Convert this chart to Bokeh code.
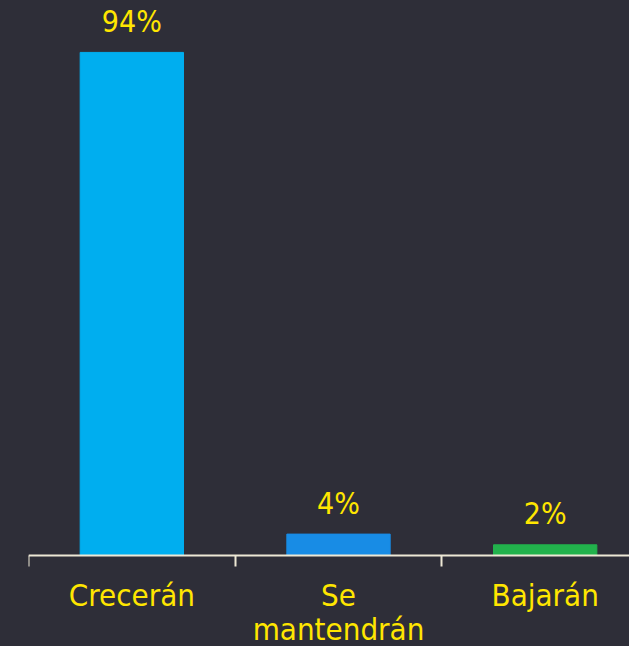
from bokeh.plotting import figure
from bokeh.models import ColumnDataSource, Range1d, FixedTicker
from bokeh.core.properties import value
from bokeh.embed import file_html
from bokeh.resources import INLINE

categories = ["Crecerán", "Se\nmantendrán", "Bajarán"]
values = [94, 4, 2]
labels = ["94%", "4%", "2%"]
colors = ["#00AEEF", "#188CE5", "#22B24C"]

BG = "#2E2E38"
YELLOW = "#FFE600"
AXIS = "#EDE8D5"
FONT = "DejaVu Sans Condensed"

xs = [i + 0.5 for i in range(len(categories))]
src = ColumnDataSource(dict(x=xs, top=values, color=colors, label=labels))

p = figure(width=629, height=646, output_backend="svg", toolbar_location=None,
           x_range=Range1d(0, 2.908), y_range=Range1d(-17.0, 103.7),
           background_fill_alpha=0, border_fill_alpha=0,
           min_border_left=28, min_border_right=0, min_border_top=0, min_border_bottom=0)
p.styles = {"background-color": BG}
p.outline_line_color = None
p.grid.visible = False
p.yaxis.visible = False

p.vbar(x="x", top="top", bottom=0, width=0.5, color="color", source=src)
p.text(x="x", y="top", text="label", source=src, text_align="center",
       text_baseline="alphabetic", y_offset=-31, text_color=YELLOW,
       text_font=value(FONT), text_font_size="30px")

ax = p.xaxis[0]
ax.fixed_location = 0
ax.ticker = FixedTicker(ticks=xs, minor_ticks=[0, 1, 2, 3])
ax.major_label_overrides = {x: c for x, c in zip(xs, categories)}
ax.major_tick_line_color = None
ax.major_tick_out = 0
ax.major_tick_in = 0
ax.minor_tick_line_color = AXIS
ax.minor_tick_line_width = 2
ax.minor_tick_out = 11
ax.minor_tick_in = 0
ax.axis_line_color = AXIS
ax.axis_line_width = 2
ax.major_label_text_color = YELLOW
ax.major_label_text_font = FONT
ax.major_label_text_font_size = "31px"
ax.major_label_standoff = 10
ax.major_label_text_line_height = 0.97

open("out.html", "w").write(file_html(p, INLINE))
